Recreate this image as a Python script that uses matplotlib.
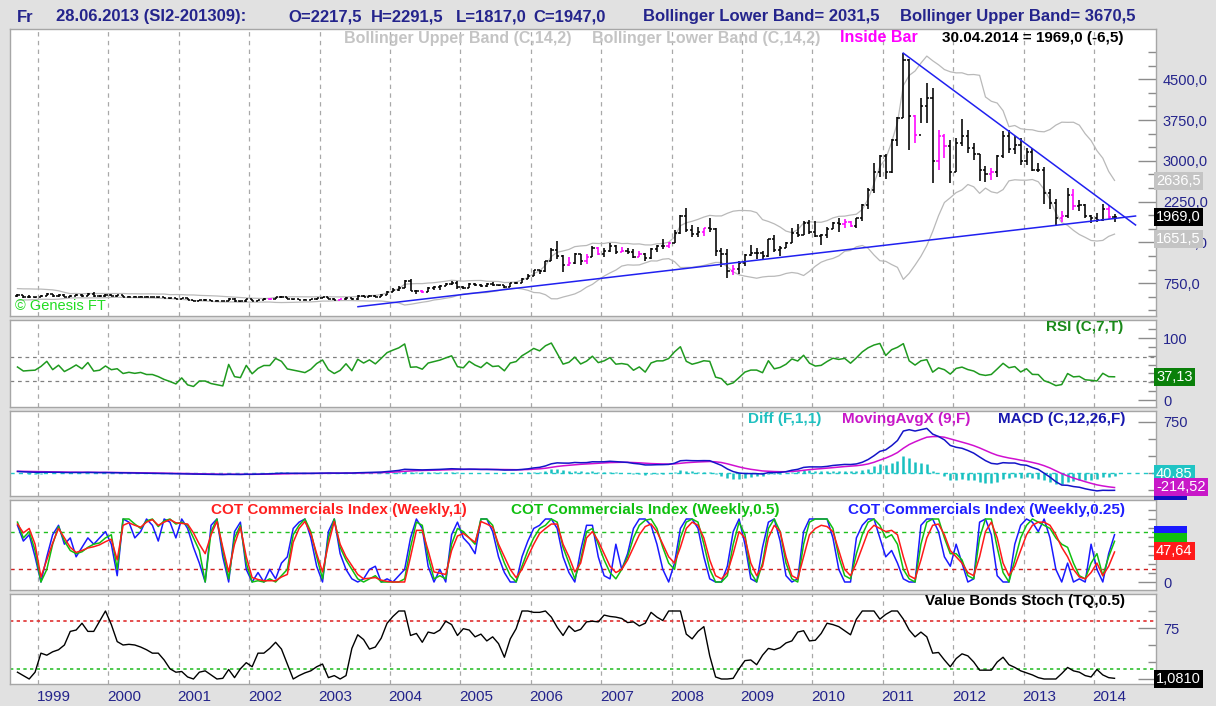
import numpy as np
import matplotlib
matplotlib.use("Agg")
import matplotlib.pyplot as plt
from matplotlib.transforms import blended_transform_factory

# ---------------- data (monthly, Sep 1998 .. Apr 2014, silver in cents) -------------
start_year, start_month = 1998, 9
closes_before = [450, 490, 470, 500, 595, 590, 615, 630, 600, 510, 550, 545, 500]  # Aug97..Aug98 (warm-up)

opens = [517, 524, 495, 498,
         500, 520, 553, 510, 538, 500, 518, 540, 520, 560, 510, 515,
         540, 520, 525, 500, 505, 500, 503, 495, 495, 488, 478, 470,
         460, 470, 440, 430, 440, 440, 430, 425, 420, 465, 420, 415,
         460, 420, 445, 460, 460, 500, 490, 460, 455, 450, 445, 455,
         475, 490, 460, 445, 455, 480, 455, 515, 500, 520, 505, 540,
         595, 630, 670, 790, 605, 610, 585, 660, 680, 700, 730, 760,
         680, 670, 740, 710, 690, 740, 710, 715, 680, 745, 760, 830,
         890, 985, 970, 1150, 1360, 1245, 1085, 1130, 1280, 1165, 1240, 1400,
         1290, 1340, 1440, 1330, 1345, 1330, 1240, 1295, 1210, 1380, 1430, 1430,
         1480, 1680, 1990, 1720, 1650, 1700, 1760, 1750, 1350, 1290, 980, 1020,
         1130, 1260, 1310, 1310, 1250, 1560, 1360, 1400, 1490, 1670, 1630, 1860,
         1690, 1620, 1640, 1750, 1860, 1840, 1870, 1800, 1940, 2180, 2470, 2800,
         3090, 2790, 3390, 3790, 4860, 3830, 3480, 4000, 4150, 3000, 3460, 3270,
         2790, 3320, 3450, 3240, 3120, 2840, 2750, 2800, 3090, 3460, 3220, 3290,
         3000, 3160, 2840, 2830, 2410, 2217.5, 1947, 1980, 2380, 2170, 2190, 1980,
         1950, 1910, 2120, 1975.5]
highs = [560, 532, 524, 505,
         530, 565, 560, 545, 545, 530, 545, 545, 575, 580, 528, 545,
         548, 540, 530, 515, 510, 515, 510, 505, 500, 495, 485, 475,
         478, 472, 445, 445, 460, 445, 435, 430, 480, 470, 425, 465,
         465, 450, 470, 465, 505, 510, 495, 465, 465, 455, 455, 480,
         500, 495, 470, 465, 490, 485, 525, 530, 530, 525, 545, 600,
         660, 690, 800, 830, 625, 620, 685, 700, 715, 745, 790, 785,
         700, 750, 750, 735, 750, 765, 725, 725, 750, 770, 840, 910,
         1000, 1000, 1160, 1400, 1520, 1270, 1230, 1300, 1290, 1280, 1440, 1420,
         1400, 1480, 1460, 1420, 1390, 1380, 1345, 1300, 1400, 1460, 1560, 1500,
         1720, 2000, 2140, 1820, 1780, 1760, 1950, 1770, 1400, 1380, 1080, 1160,
         1290, 1460, 1390, 1340, 1570, 1640, 1440, 1500, 1760, 1830, 1900, 1920,
         1900, 1650, 1790, 1880, 1950, 1930, 1890, 1950, 2200, 2500, 2960, 3100,
         3130, 3400, 3800, 4980, 4880, 3850, 4150, 4430, 4340, 3560, 3500, 3380,
         3420, 3760, 3560, 3320, 3130, 2910, 2860, 3100, 3550, 3560, 3450, 3420,
         3240, 3230, 2960, 2880, 2490, 2291.5, 2070, 2500, 2480, 2280, 2200, 2000,
         2040, 2200, 2190, 2020]
lows = [495, 480, 480, 480,
        497, 515, 500, 500, 495, 495, 507, 505, 515, 505, 500, 505,
        510, 503, 497, 495, 490, 490, 490, 490, 485, 470, 465, 455,
        455, 436, 425, 425, 430, 425, 415, 415, 415, 410, 405, 405,
        415, 415, 440, 450, 455, 480, 455, 445, 445, 440, 440, 450,
        470, 455, 435, 440, 450, 450, 450, 490, 495, 490, 500, 535,
        590, 605, 665, 600, 550, 565, 580, 625, 630, 690, 725, 640,
        640, 655, 690, 685, 680, 700, 690, 670, 675, 730, 750, 820,
        880, 920, 960, 1150, 1200, 950, 1060, 1110, 1090, 1100, 1235, 1260,
        1230, 1320, 1280, 1320, 1280, 1220, 1235, 1150, 1200, 1330, 1370, 1390,
        1480, 1660, 1700, 1600, 1600, 1620, 1700, 1250, 1050, 840, 900, 910,
        1070, 1250, 1200, 1180, 1240, 1320, 1250, 1390, 1490, 1600, 1630, 1650,
        1600, 1450, 1590, 1740, 1700, 1770, 1775, 1760, 1900, 2110, 2400, 2700,
        2660, 2780, 3270, 3780, 3200, 3330, 3690, 3690, 2590, 2830, 3050, 2590,
        2790, 3270, 3150, 3010, 2630, 2610, 2650, 2700, 3050, 3150, 3120, 2930,
        2920, 2810, 2800, 2200, 2120, 1817, 1870, 1950, 2100, 2080, 1950, 1860,
        1870, 1900, 1930, 1880]
closes = [524, 495, 498, 500,
          520, 553, 510, 538, 500, 518, 540, 520, 560, 510, 515, 540,
          520, 525, 500, 505, 500, 503, 495, 495, 488, 478, 470, 460,
          470, 440, 430, 440, 440, 430, 425, 420, 465, 420, 415, 460,
          420, 445, 460, 460, 500, 490, 460, 455, 450, 445, 455, 475,
          490, 460, 445, 455, 480, 455, 515, 500, 520, 505, 540, 595,
          630, 670, 790, 605, 610, 585, 660, 680, 700, 730, 760, 680,
          670, 740, 710, 690, 740, 710, 715, 680, 745, 760, 830, 890,
          985, 970, 1150, 1360, 1245, 1085, 1130, 1280, 1165, 1240, 1400, 1290,
          1340, 1440, 1330, 1345, 1330, 1240, 1295, 1210, 1380, 1430, 1430, 1480,
          1680, 1990, 1720, 1650, 1700, 1760, 1750, 1350, 1290, 980, 1020, 1130,
          1260, 1310, 1310, 1250, 1560, 1360, 1400, 1490, 1670, 1630, 1860, 1690,
          1620, 1640, 1750, 1860, 1840, 1870, 1800, 1940, 2180, 2470, 2800, 3090,
          2790, 3390, 3790, 4860, 3830, 3480, 4000, 4150, 3000, 3460, 3270, 2790,
          3320, 3450, 3240, 3120, 2840, 2750, 2800, 3090, 3460, 3220, 3290, 3000,
          3160, 2840, 2830, 2410, 2230, 1947, 1980, 2380, 2170, 2190, 1980, 1950,
          1910, 2120, 1975.5, 1969]

# user drawn trend lines: (decimal year, price)
trend_upper_x = [2011.29, 2014.59]
trend_upper_y = [4980, 1820]
trend_lower_x = [2003.545, 2014.59]
trend_lower_y = [318, 1985]

cot_1y = [92, 78, 85, 60, 8, 35, 62, 85, 70, 55,
          47, 50, 54, 56, 59, 64, 68, 35, 90, 94,
          90, 87, 95, 99, 90, 95, 99, 94, 93, 92,
          78, 60, 45, 75, 96, 55, 16, 60, 87, 40,
          7, 4, 2, 2, 2, 8, 12, 63, 85, 96,
          77, 45, 16, 60, 96, 60, 40, 26, 12, 5,
          6, 7, 3, 1, 0, 0, 0, 40, 82, 82,
          50, 16, 14, 12, 50, 73, 77, 70, 63, 96,
          92, 87, 60, 40, 20, 7, 20, 40, 60, 77,
          85, 92, 92, 60, 40, 16, 30, 70,
          80, 65, 45, 25, 15, 20, 35, 55, 75, 88,
          92, 80, 60, 40, 30, 55, 85, 95, 90, 70,
          35, 10, 5, 15, 45, 80, 70, 30, 10, 25,
          70, 90, 80, 40, 10, 5, 40, 75, 85, 90,
          88, 80, 50, 20, 10, 30, 55, 80, 90, 85,
          80, 82, 75, 40, 10, 5, 35, 70, 90, 92,
          75, 50, 40, 30, 15, 10, 40, 80, 95, 70,
          30, 10, 25, 50, 75, 90, 95, 95, 90, 75,
          55, 40, 20, 8, 5, 15, 30, 10, 25, 47.64]
cot_half = [95, 70, 80, 50, 0, 20, 60, 88, 65, 50,
            45, 48, 55, 60, 62, 70, 75, 20, 100, 100,
            92, 85, 97, 100, 88, 97, 100, 92, 95, 90,
            70, 50, 0, 80, 100, 50, 5, 70, 90, 30,
            0, 2, 0, 5, 0, 10, 20, 75, 90, 100,
            80, 40, 5, 70, 100, 55, 35, 20, 5, 0,
            5, 10, 0, 0, 0, 0, 5, 55, 95, 90,
            40, 5, 10, 5, 60, 85, 80, 70, 60, 100,
            100, 90, 55, 30, 10, 0, 25, 50, 70, 85,
            90, 100, 95, 55, 30, 5, 35, 80,
            85, 60, 35, 15, 5, 20, 40, 70, 90, 98,
            100, 85, 55, 30, 20, 70, 95, 100, 95, 60,
            20, 0, 0, 10, 60, 95, 75, 15, 0, 30,
            85, 100, 80, 30, 5, 0, 60, 95, 100, 100,
            100, 85, 40, 10, 5, 45, 75, 95, 100, 90,
            70, 75, 60, 20, 5, 0, 60, 95, 100, 100,
            70, 45, 45, 35, 10, 5, 70, 100, 100, 55,
            15, 0, 35, 70, 90, 100, 95, 90, 85, 70,
            60, 55, 30, 10, 5, 30, 45, 10, 40, 64.57]
cot_quarter = [90, 65, 75, 40, 0, 40, 75, 90, 60, 70,
               40, 55, 70, 60, 70, 80, 60, 10, 100, 95,
               70, 80, 100, 90, 65, 100, 95, 70, 100, 85,
               55, 30, 0, 90, 100, 40, 0, 80, 95, 20,
               0, 15, 0, 20, 5, 30, 40, 85, 95, 100,
               70, 25, 0, 80, 100, 45, 20, 5, 0, 5,
               20, 25, 0, 5, 0, 10, 20, 70, 100, 85,
               25, 0, 20, 0, 75, 95, 70, 60, 45, 100,
               100, 80, 40, 15, 0, 0, 40, 65, 85, 90,
               100, 100, 85, 40, 15, 0, 50, 90,
               90, 40, 10, 5, 60, 20, 45, 85, 100, 100,
               90, 60, 20, 0, 30, 85, 100, 100, 85, 40,
               5, 0, 0, 25, 80, 100, 60, 5, 0, 55,
               95, 100, 65, 10, 0, 5, 80, 100, 100, 100,
               100, 70, 20, 0, 0, 70, 90, 100, 100, 70,
               40, 50, 30, 5, 0, 0, 90, 100, 100, 80,
               40, 25, 60, 30, 0, 5, 95, 100, 75, 10,
               0, 0, 60, 90, 100, 95, 80, 100, 70, 20,
               0, 30, 0, 5, 0, 60, 20, 0, 45, 75]

stoch = [10, 5, 0, 10, 38, 35, 40, 43, 50, 70,
         72, 82, 70, 70, 85, 100, 80, 55, 50, 51,
         50, 47, 43, 38, 38, 28, 15, 10, 11, 3,
         0, 10, 12, 6, 0, 1, 14, 2, 15, 24,
         18, 38, 38, 45, 54, 44, 22, 0, 5, 9,
         12, 18, 22, 2, 5, 0, 5, 45, 65, 58,
         44, 47, 60, 82, 92, 100, 100, 64, 67, 54,
         69, 67, 72, 85, 80, 64, 74, 72, 62, 66,
         56, 62, 52, 32, 59, 74, 100, 100, 98, 98,
         100, 91, 76, 64, 78, 70, 73, 84, 85, 84,
         94, 92, 91, 89, 83, 84, 78, 82, 98, 91,
         86, 100, 100, 100, 66, 59, 70, 77, 34, 3,
         0, 0, 1, 15, 27, 28, 21, 35, 45, 43,
         46, 53, 56, 69, 71, 56, 57, 67, 82, 80,
         77, 71, 65, 88, 100, 100, 100, 88, 95, 100,
         100, 88, 72, 62, 69, 62, 38, 39, 28, 18,
         30, 37, 34, 25, 13, 13, 13, 25, 32, 21,
         17, 12, 9, 6, 2, 0, 0, 0, 8, 17,
         12, 10, 5, 3, 14, 6, 2, 1]

years = list(range(1999, 2015))

# ---------------- derived indicators -------------
n = len(closes)
months = [(start_year + (start_month - 1 + i) // 12, (start_month - 1 + i) % 12 + 1) for i in range(n)]
xs = np.array([y + (m - 0.5) / 12 for y, m in months])
O, Hh, L, C = map(np.array, (opens, highs, lows, closes))
full = np.array(closes_before + closes, dtype=float)
nb = len(closes_before)

bb_mid = np.array([full[i - 13:i + 1].mean() for i in range(nb, nb + n)])
bb_std = np.array([full[i - 13:i + 1].std() for i in range(nb, nb + n)])
bb_up, bb_lo = bb_mid + 2 * bb_std, bb_mid - 2 * bb_std

d = np.diff(full)
g = np.clip(d, 0, None); lo_ = np.clip(-d, 0, None)
ag, al = g[:7].mean(), lo_[:7].mean()
rsi_full = [np.nan] * 8
for i in range(7, len(d)):
    ag = (ag * 6 + g[i]) / 7
    al = (al * 6 + lo_[i]) / 7
    rsi_full.append(100 - 100 / (1 + ag / al) if al > 0 else 100)
rsi_vals = np.array(rsi_full)[nb:nb + n]

def ema(v, p):
    a = 2 / (p + 1); out = [v[0]]
    for x in v[1:]:
        out.append(out[-1] + a * (x - out[-1]))
    return np.array(out)

macd_full = ema(full, 12) - ema(full, 26)
sig_full = ema(macd_full, 9)
macd_v = macd_full[nb:]; sig_v = sig_full[nb:]; diff_v = macd_v - sig_v

inside = np.zeros(n, bool)
inside[1:] = (Hh[1:] < Hh[:-1]) & (L[1:] > L[:-1])

# ---------------- figure -------------
W, Hpx = 1216, 706
BG = '#e1e1e1'
NAVY = '#24248c'
fig = plt.figure(figsize=(W / 100, Hpx / 100), dpi=100)
fig.patch.set_facecolor(BG)
X0 = 1999 + (10 - 38) / 70.4
X1 = 1999 + (1156 - 38) / 70.4
NARROW = ['Liberation Sans Narrow', 'Liberation Sans', 'DejaVu Sans']
REG = ['Liberation Sans', 'DejaVu Sans']

def ax_at(top, bottom, left=10, right=1156):
    return fig.add_axes([left / W, 1 - bottom / Hpx, (right - left) / W, (bottom - top) / Hpx])

def setup(ax, ylim, major, labels, minor, fs=10.5):
    ax.set_xlim(X0, X1)
    ax.set_ylim(*ylim)
    ax.set_facecolor('white')
    ax.yaxis.tick_right()
    ax.set_yticks(major)
    ax.set_yticklabels(labels, fontfamily=REG, fontsize=fs, color=NAVY)
    ax.set_yticks(minor, minor=True)
    ax.tick_params(axis='y', which='major', direction='in', length=13, width=1, color='#8c8c8c', pad=5)
    ax.tick_params(axis='y', which='minor', direction='in', length=6, width=1, color='#8c8c8c')
    ax.set_xticks([])
    for s in ax.spines.values():
        s.set_color('#a6a6a6'); s.set_linewidth(1)
    for yv in years:
        ax.axvline(yv, color='#a8a8a8', lw=0.9, ls=(0, (3.5, 3.5)), zorder=0)

def ftext(x, y, s, color, fs=11, ha='left', bold=True, fam=None, bg=None, z=3):
    kw = {}
    if bg is not None:
        kw['bbox'] = dict(boxstyle='square,pad=0.15', fc=bg, ec='none')
    fig.text(x / W, 1 - y / Hpx, s, color=color, fontsize=fs, ha=ha, va='center', zorder=z,
             fontweight='bold' if bold else 'normal', fontfamily=fam or NARROW, **kw)

# ---- main price panel
ax = ax_at(29, 316)
ylo, yhi = (324 - 316) / 0.0544, (324 - 29) / 0.0544
setup(ax, (ylo, yhi), [750, 1500, 2250, 3000, 3750, 4500],
      ['750,0', '1500,0', '2250,0', '3000,0', '3750,0', '4500,0'],
      [v for v in range(250, 5300, 250) if v % 750])
ax.plot(xs, bb_up, color='#b9b9b9', lw=0.9, zorder=1)
ax.plot(xs, bb_lo, color='#b9b9b9', lw=0.9, zorder=1)
cols = np.where(inside, '#ff00ff', '#000000')
dx = 2.2 / 70.4
ax.vlines(xs, L, Hh, colors=cols, lw=1.15, zorder=3)
ax.hlines(O, xs - dx, xs, colors=cols, lw=1.1, zorder=3)
ax.hlines(C, xs, xs + dx, colors=cols, lw=1.1, zorder=3)
ax.plot(trend_upper_x, trend_upper_y, color='#2020f0', lw=1.1, zorder=4)
ax.plot(trend_lower_x, trend_lower_y, color='#2020f0', lw=1.1, zorder=4)

# ---- RSI
ax2 = ax_at(320, 407)
setup(ax2, ((400 - 407) / 0.62, (400 - 320) / 0.62), [0, 100], ['0', '100'],
      [100 * i / 7 for i in range(1, 9) if i != 7])
ax2.axhline(70, color='#808080', lw=0.9, ls=(0, (3, 3)))
ax2.axhline(30, color='#808080', lw=0.9, ls=(0, (3, 3)))
ax2.plot(xs, rsi_vals, color='#1f9a1f', lw=1.1)

# ---- MACD
ax3 = ax_at(411, 496)
setup(ax3, ((473 - 496) / 0.068, (473 - 411) / 0.068), [750], ['750'], [-250, 0, 250, 500])
ax3.axhline(0, color='#20c8c8', lw=1.0, ls=(0, (3, 3)))
ax3.vlines(xs, 0, diff_v, colors='#18c0c0', lw=1.8)
ax3.plot(xs, sig_v, color='#d010d0', lw=1.1)
ax3.plot(xs, macd_v, color='#1414c8', lw=1.1)

# ---- COT
ax4 = ax_at(500, 590)
setup(ax4, ((582 - 590) / 0.63, (582 - 500) / 0.63), [0], ['0'],
      [100 * i / 7 for i in range(1, 9)])
ax4.axhline(80, color='#20c020', lw=1.0, ls=(0, (3, 3)))
ax4.axhline(20, color='#d02020', lw=1.0, ls=(0, (3, 3)))
ax4.plot(xs, cot_quarter, color='#1a1aff', lw=1.1)
ax4.plot(xs, cot_half, color='#10c010', lw=1.1)
ax4.plot(xs, cot_1y, color='#ff1a1a', lw=1.1)

# ---- Value bonds stoch
ax5 = ax_at(594, 684)
setup(ax5, ((679 - 684) / 0.68, (679 - 594) / 0.68), [0, 75], ['', '75'], [25, 50, 100])
ax5.axhline(85, color='#e03030', lw=1.2, ls=(0, (2, 2)))
ax5.axhline(15, color='#30c030', lw=1.2, ls=(0, (2, 2)))
ax5.plot(xs, stoch, color='#000000', lw=1.0)
tr = blended_transform_factory(ax5.transData, ax5.transAxes)
for yv in years:
    ax5.text(yv - 0.02, -13 / 90, str(yv), transform=tr, ha='left', va='center',
             fontsize=11, color=NAVY, fontfamily=REG)

# ---------------- texts -------------
ftext(17, 17, 'Fr', NAVY, fs=12)
ftext(56, 17, '28.06.2013 (SI2-201309):', NAVY, fs=12)
ftext(288, 17, 'O=2217,5', NAVY, fs=12)
ftext(371, 17, 'H=2291,5', NAVY, fs=12)
ftext(456, 17, 'L=1817,0', NAVY, fs=12)
ftext(533, 17, 'C=1947,0', NAVY, fs=12)
ftext(643, 17, 'Bollinger Lower Band= 2031,5', NAVY, fs=12)
ftext(900, 17, 'Bollinger Upper Band= 3670,5', NAVY, fs=12)

ftext(344, 38, 'Bollinger Upper Band (C,14,2)', '#c4c4c4', fs=11.5)
ftext(592, 38, 'Bollinger Lower Band (C,14,2)', '#c4c4c4', fs=11.5)
ftext(840, 38, 'Inside Bar', '#ff00ff', fs=11.5)
ftext(1123, 38, '30.04.2014 = 1969,0 (-6,5)', '#000000', fs=11, ha='right')
ftext(15, 306, '\u00a9 Genesis FT', '#22dd22', fs=10.5, bold=False, fam=REG)

ftext(1123, 327, 'RSI (C,7,T)', '#1a8a1a', fs=11, ha='right')
ftext(748, 419, 'Diff (F,1,1)', '#20c0c0', fs=11)
ftext(842, 419, 'MovingAvgX (9,F)', '#c818c8', fs=11)
ftext(1125, 419, 'MACD (C,12,26,F)', '#1818b0', fs=11, ha='right')
ftext(211, 510, 'COT Commercials Index (Weekly,1)', '#ff2020', fs=11)
ftext(511, 510, 'COT Commercials Index (Weekly,0.5)', '#10c010', fs=11)
ftext(1125, 510, 'COT Commercials Index (Weekly,0.25)', '#2020ff', fs=11, ha='right')
ftext(1125, 601, 'Value Bonds Stoch (TQ,0.5)', '#000000', fs=11, ha='right')

# right-side value boxes
def vbox(y, s, bg, fg='white', fs=10.5):
    ftext(1156, y, s, fg, fs=fs, bold=False, fam=REG, bg=bg)

vbox(181, '2636,5', '#c4c4c4')
vbox(217, '1969,0', '#000000')
vbox(239, '1651,5', '#c4c4c4')
vbox(377, '37,13', '#0a800a')
vbox(474, '40,85', '#20c4c4')
vbox(491, '       ', '#1010c0')
vbox(487, '-214,52', '#c818c8')
vbox(535, '       ', '#1a1aff')
vbox(542, '       ', '#10c010')
vbox(551, '47,64', '#ff1a1a')
vbox(679, '1,0810', '#000000')

fig.savefig('out.png', dpi=100, facecolor=fig.get_facecolor())
